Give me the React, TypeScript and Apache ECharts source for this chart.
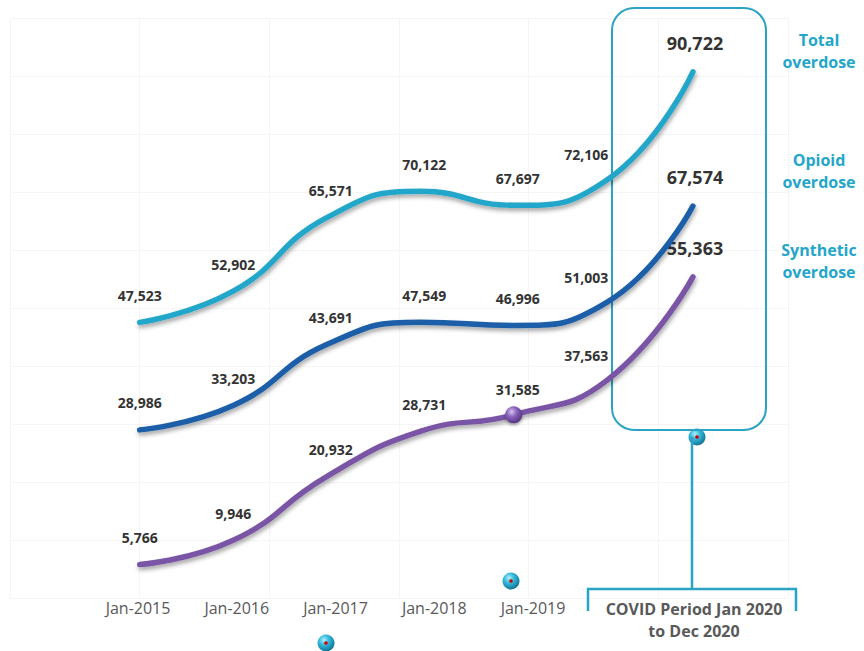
import React, { useEffect, useRef } from "react";
import * as echarts from "echarts";

const periods = ["Jan-2015", "Jan-2016", "Jan-2017", "Jan-2018", "Jan-2019", "Jan-2020", "Dec-2020"];
const periodMonths = [0, 12, 24, 36, 48, 60, 71];
const totalOverdose = [47523, 52902, 65571, 70122, 67697, 72106, 90722];
const opioidOverdose = [28986, 33203, 43691, 47549, 46996, 51003, 67574];
const syntheticOverdose = [5766, 9946, 20932, 28731, 31585, 37563, 55363];
const axisLabels = ["Jan-2015", "Jan-2016", "Jan-2017", "Jan-2018", "Jan-2019"];
const seriesNames = [["Total", "overdose"], ["Opioid", "overdose"], ["Synthetic", "overdose"]];
const covidLabel = ["COVID Period Jan 2020", "to Dec 2020"];

const FONT = '"Open Sans", "Noto Sans", sans-serif';
const TEAL = "#23a6c9";

function tealBall(cx: number, cy: number) {
  return {
    type: "group",
    z: 20,
    children: [
      {
        type: "circle",
        shape: { cx, cy, r: 8.5 },
        style: {
          fill: new echarts.graphic.RadialGradient(0.38, 0.32, 0.75, [
            { offset: 0, color: "#b5f0fb" },
            { offset: 0.35, color: "#3cbfe0" },
            { offset: 0.8, color: "#1786a8" },
            { offset: 1, color: "#0d5f7a" },
          ]),
        },
      },
      { type: "circle", shape: { cx, cy, r: 1.8 }, style: { fill: "#d40000" } },
    ],
  };
}

function buildSeries(name: string, values: number[], color: string, z: number, markerIndex: number) {
  return {
    name,
    type: "line",
    xAxisIndex: 0,
    yAxisIndex: 0,
    smooth: 0.5,
    z,
    symbol: "circle",
    symbolSize: 2,
    showSymbol: true,
    itemStyle: { color: "rgba(0,0,0,0)", borderWidth: 0 },
    lineStyle: {
      color,
      width: 5.5,
      cap: "round",
      shadowColor: "rgba(0,0,0,0.35)",
      shadowBlur: 4,
      shadowOffsetX: 1,
      shadowOffsetY: 3,
    },
    label: {
      show: true,
      position: "top",
      distance: 19,
      color: "#333",
      fontWeight: "bold",
      fontSize: 14,
      fontFamily: FONT,
      formatter: (p: any) => Number(p.value[1]).toLocaleString("en-US"),
    },
    data: values.map((v, i) => {
      const item: any = { name: periods[i], value: [periodMonths[i], v] };
      if (i === 5) item.label = { offset: [-21, 0], distance: 17 };
      else if (i === 6) item.label = { fontSize: 18, distance: 19, offset: [2, 0] };
      else if (i >= 2) item.label = { offset: [4, 0] };
      if (i === markerIndex) {
        item.symbolSize = 17;
        item.itemStyle = {
          color: new echarts.graphic.RadialGradient(0.38, 0.32, 0.75, [
            { offset: 0, color: "#d6c4f0" },
            { offset: 0.4, color: "#8a64bd" },
            { offset: 1, color: "#4b2f78" },
          ]),
          shadowColor: "rgba(0,0,0,0.35)",
          shadowBlur: 3,
          shadowOffsetY: 2,
        };
        item.label = { offset: [4, 0], distance: 10 };
      }
      return item;
    }),
  };
}

export default function App() {
  const ref = useRef<HTMLDivElement>(null);
  useEffect(() => {
    if (!ref.current) return;
    const chart = echarts.init(ref.current, null, { renderer: "svg" });
    const grid = "#f5f5f5";
    const textEls: any[] = [];
    seriesNames.forEach((lines, i) => {
      const top = [40, 160, 250][i];
      lines.forEach((t, j) => {
        textEls.push({
          type: "text",
          z: 10,
          style: {
            text: t,
            x: 819,
            y: top + j * 22,
            align: "center",
            verticalAlign: "middle",
            font: `bold 16px ${FONT}`,
            fill: TEAL,
          },
        });
      });
    });
    covidLabel.forEach((t, j) => {
      textEls.push({
        type: "text",
        z: 10,
        style: {
          text: t,
          x: 694,
          y: 609 + j * 22,
          align: "center",
          verticalAlign: "middle",
          font: `bold 16px ${FONT}`,
          fill: "#595959",
        },
      });
    });
    chart.setOption({
      animation: false,
      backgroundColor: "#ffffff",
      grid: [
        { left: 10, right: 76, top: 18, bottom: 53 },
        { left: 138, right: 331, top: 18, bottom: 53 },
      ],
      xAxis: [
        {
          type: "value",
          gridIndex: 0,
          min: -16.64,
          max: 83.2,
          interval: 16.64,
          axisLine: { show: false },
          axisTick: { show: false },
          axisLabel: { show: false },
          splitLine: { show: true, lineStyle: { color: grid, width: 1 } },
        },
        {
          type: "category",
          gridIndex: 1,
          data: axisLabels,
          boundaryGap: false,
          axisLine: { show: false },
          axisTick: { show: false },
          splitLine: { show: false },
          axisLabel: { color: "#595959", fontSize: 16, fontFamily: FONT, margin: 2, interval: 0 },
        },
      ],
      yAxis: [
        {
          type: "value",
          gridIndex: 0,
          min: 0,
          max: 100000,
          interval: 10000,
          axisLine: { show: false },
          axisTick: { show: false },
          axisLabel: { show: false },
          splitLine: { show: true, lineStyle: { color: grid, width: 1 } },
        },
        { type: "value", gridIndex: 1, min: 0, max: 1, show: false, splitLine: { show: false } },
      ],
      series: [
        buildSeries("Synthetic overdose", syntheticOverdose, "#7a54a6", 3, 4),
        buildSeries("Opioid overdose", opioidOverdose, "#1a5ea8", 4, -1),
        buildSeries("Total overdose", totalOverdose, TEAL, 5, -1),
      ],
      graphic: [
        {
          type: "rect",
          z: 1,
          shape: { x: 612, y: 8, width: 154, height: 422, r: 22 },
          style: { fill: "none", stroke: "#2ba3c4", lineWidth: 2 },
        },
        {
          type: "polyline",
          z: 10,
          shape: { points: [[692, 437], [692, 589]] },
          style: { stroke: "#2ba3c4", lineWidth: 2.5, fill: "none" },
        },
        {
          type: "polyline",
          z: 10,
          shape: { points: [[588, 611], [588, 589], [796, 589], [796, 611]] },
          style: { stroke: "#2ba3c4", lineWidth: 2.5, fill: "none" },
        },
        ...textEls,
        tealBall(697, 437),
        tealBall(511, 581),
        tealBall(326, 643),
      ],
    });
    return () => chart.dispose();
  }, []);
  return (
    <div
      ref={ref}
      style={{ position: "fixed", left: 0, top: 0, width: 864, height: 651, background: "#fff" }}
    />
  );
}
